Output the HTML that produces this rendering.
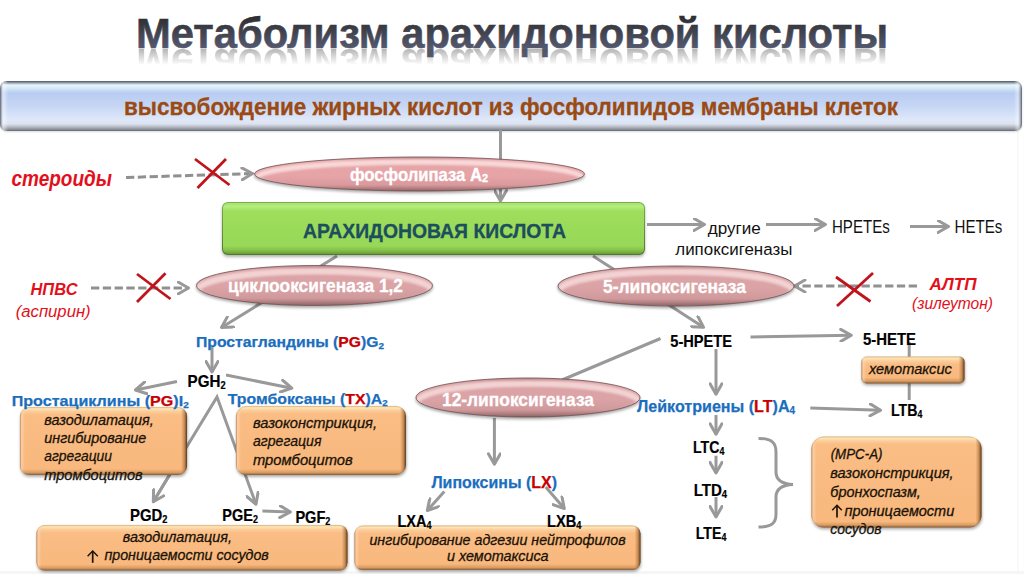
<!DOCTYPE html>
<html><head><meta charset="utf-8">
<style>
html,body{margin:0;padding:0;background:#fff;width:1024px;height:574px;overflow:hidden}
svg{display:block}
text{font-family:"Liberation Sans",sans-serif}
</style></head>
<body>
<svg width="1024" height="574" viewBox="0 0 1024 574">
<defs>
  <linearGradient id="gTitle" x1="0" y1="17" x2="0" y2="49" gradientUnits="userSpaceOnUse">
    <stop offset="0" stop-color="#2e2e30"/>
    <stop offset="1" stop-color="#555a70"/>
  </linearGradient>
  <linearGradient id="gRefl" x1="0" y1="49" x2="0" y2="65" gradientUnits="userSpaceOnUse">
    <stop offset="0" stop-color="#fff" stop-opacity="0.42"/>
    <stop offset="1" stop-color="#fff" stop-opacity="0"/>
  </linearGradient>
  <mask id="mRefl" maskUnits="userSpaceOnUse" x="0" y="40" width="1024" height="40">
    <rect x="0" y="49" width="1024" height="20" fill="url(#gRefl)"/>
  </mask>
  <linearGradient id="gBar" x1="0" y1="81" x2="0" y2="131" gradientUnits="userSpaceOnUse">
    <stop offset="0" stop-color="#4e545e"/>
    <stop offset="0.04" stop-color="#9aa4b0"/>
    <stop offset="0.08" stop-color="#e6f6fc"/>
    <stop offset="0.16" stop-color="#d0e4f6"/>
    <stop offset="0.24" stop-color="#b8ccf2"/>
    <stop offset="0.5" stop-color="#c6d6f4"/>
    <stop offset="0.78" stop-color="#dfe8fa"/>
    <stop offset="0.86" stop-color="#dce2ee"/>
    <stop offset="0.92" stop-color="#b4b8c2"/>
    <stop offset="0.97" stop-color="#8a8e98"/>
    <stop offset="1" stop-color="#60646c"/>
  </linearGradient>
  <linearGradient id="gBarSide" x1="0" y1="0" x2="1022" y2="0" gradientUnits="userSpaceOnUse">
    <stop offset="0" stop-color="#3a4050" stop-opacity="0.8"/>
    <stop offset="0.003" stop-color="#fff" stop-opacity="0.5"/>
    <stop offset="0.008" stop-color="#fff" stop-opacity="0"/>
    <stop offset="0.992" stop-color="#fff" stop-opacity="0"/>
    <stop offset="0.996" stop-color="#fff" stop-opacity="0.4"/>
    <stop offset="1" stop-color="#3a4050" stop-opacity="0.8"/>
  </linearGradient>
  <linearGradient id="gGreen" x1="0" y1="0" x2="0" y2="1">
    <stop offset="0" stop-color="#a8e070"/>
    <stop offset="0.07" stop-color="#b4ee7c"/>
    <stop offset="0.16" stop-color="#9ede5c"/>
    <stop offset="0.84" stop-color="#98d858"/>
    <stop offset="0.93" stop-color="#84c048"/>
    <stop offset="1" stop-color="#6a9c3a"/>
  </linearGradient>
  <linearGradient id="gGreenEdge" x1="0" y1="0" x2="0" y2="1">
    <stop offset="0" stop-color="#7cae4c"/>
    <stop offset="1" stop-color="#4e7a2a"/>
  </linearGradient>
  <linearGradient id="gOr" x1="0" y1="0" x2="0" y2="1">
    <stop offset="0" stop-color="#f4c898"/>
    <stop offset="0.05" stop-color="#fde2bc"/>
    <stop offset="0.14" stop-color="#f9c590"/>
    <stop offset="0.84" stop-color="#f7bd86"/>
    <stop offset="0.93" stop-color="#e4a66c"/>
    <stop offset="1" stop-color="#b07a46"/>
  </linearGradient>
  <linearGradient id="gOrSide" x1="0" y1="0" x2="1" y2="0">
    <stop offset="0" stop-color="#fff" stop-opacity="0.15"/>
    <stop offset="0.03" stop-color="#fff" stop-opacity="0"/>
    <stop offset="0.95" stop-color="#8a5a2a" stop-opacity="0"/>
    <stop offset="1" stop-color="#8a5a2a" stop-opacity="0.35"/>
  </linearGradient>
  <linearGradient id="gOrEdge" x1="0" y1="0" x2="0" y2="1">
    <stop offset="0" stop-color="#d0a070"/>
    <stop offset="1" stop-color="#7a5030"/>
  </linearGradient>
  <radialGradient id="gPinkR1" cx="0.5" cy="0.5" r="0.5">
    <stop offset="0" stop-color="#e6a2a6"/>
    <stop offset="0.72" stop-color="#e8a8aa"/>
    <stop offset="0.86" stop-color="#f4cccc"/>
    <stop offset="0.95" stop-color="#d49a9c"/>
    <stop offset="1" stop-color="#8a5e60"/>
  </radialGradient>
  <radialGradient id="gPinkR2" cx="0.5" cy="0.5" r="0.5">
    <stop offset="0" stop-color="#d49a9e"/>
    <stop offset="0.72" stop-color="#d8a0a2"/>
    <stop offset="0.86" stop-color="#ecc6c6"/>
    <stop offset="0.95" stop-color="#c89094"/>
    <stop offset="1" stop-color="#7a5658"/>
  </radialGradient>
  <linearGradient id="gPinkShade" x1="0" y1="0" x2="0" y2="1">
    <stop offset="0" stop-color="#5a3a3a" stop-opacity="0.25"/>
    <stop offset="0.1" stop-color="#5a3a3a" stop-opacity="0"/>
    <stop offset="0.55" stop-color="#6a4040" stop-opacity="0"/>
    <stop offset="0.82" stop-color="#6a4040" stop-opacity="0.1"/>
    <stop offset="1" stop-color="#4a3030" stop-opacity="0.55"/>
  </linearGradient>
  <linearGradient id="gTopM" x1="0" y1="0" x2="0" y2="1">
    <stop offset="0" stop-color="#fff" stop-opacity="1"/>
    <stop offset="0.45" stop-color="#fff" stop-opacity="1"/>
    <stop offset="0.7" stop-color="#fff" stop-opacity="0"/>
  </linearGradient>
  <mask id="mTop" maskContentUnits="objectBoundingBox" x="-0.1" y="-0.2" width="1.2" height="1.4"><rect x="-0.1" y="-0.2" width="1.2" height="1.4" fill="url(#gTopM)"/></mask>
  <filter id="blur15" x="-20%" y="-50%" width="140%" height="200%"><feGaussianBlur stdDeviation="1.5"/></filter>
  <filter id="blur1" x="-20%" y="-50%" width="140%" height="200%"><feGaussianBlur stdDeviation="1"/></filter>
  <marker id="ah" viewBox="0 0 14 14" refX="12" refY="7" markerWidth="14" markerHeight="14" markerUnits="userSpaceOnUse" orient="auto">
    <path d="M1.5 1 L12 7 L1.5 13" fill="none" stroke="#999" stroke-width="3" stroke-linecap="round" stroke-linejoin="round"/>
  </marker>
</defs>

<rect x="0" y="571" width="1024" height="3" fill="#f6f6f6"/><rect x="1017" y="131" width="1.5" height="440" fill="#f8f8f8"/>
<text x="136" y="48.3" font-size="42.5" font-weight="bold" textLength="752" lengthAdjust="spacingAndGlyphs" fill="url(#gTitle)" stroke="url(#gTitle)" stroke-width="0.6">Метаболизм арахидоновой кислоты</text>
<g mask="url(#mRefl)"><text x="136" y="48.3" transform="translate(0,97.4) scale(1,-1)" font-size="42.5" font-weight="bold" textLength="752" lengthAdjust="spacingAndGlyphs" fill="#505050">Метаболизм арахидоновой кислоты</text></g>
<rect x="0" y="82" width="1022" height="50" rx="7" fill="#000" opacity="0.15" filter="url(#blur1)"/>
<rect x="0" y="81" width="1022" height="50" rx="7" fill="url(#gBar)"/>
<rect x="0" y="81" width="1022" height="50" rx="7" fill="url(#gBarSide)"/>
<text x="124" y="114.5" font-size="23.5" fill="#9a4a12" font-weight="bold" textLength="774" lengthAdjust="spacingAndGlyphs" stroke="#9a4a12" stroke-width="0.3">высвобождение жирных кислот из фосфолипидов мембраны клеток</text>
<g stroke="#999" stroke-width="3" fill="none">
<line x1="500.5" y1="130" x2="500.5" y2="201" marker-end="url(#ah)"/>
<line x1="126" y1="177.5" x2="252.5" y2="173.5" marker-end="url(#ah)" stroke-dasharray="8.3 3.5" stroke="#909090"/>
<line x1="91" y1="288" x2="188.5" y2="288" marker-end="url(#ah)" stroke-dasharray="8.3 3.5" stroke="#909090"/>
<line x1="917" y1="286" x2="794.5" y2="286" marker-end="url(#ah)" stroke-dasharray="8.3 3.5" stroke="#909090"/>
<line x1="647" y1="224.5" x2="704.5" y2="224.5" marker-end="url(#ah)"/>
<line x1="766" y1="224.5" x2="825.5" y2="224.5" marker-end="url(#ah)"/>
<line x1="910" y1="226.5" x2="948.5" y2="226.5" marker-end="url(#ah)"/>
<line x1="337" y1="256" x2="221.5" y2="327.5" marker-end="url(#ah)"/>
<line x1="593" y1="256" x2="703.5" y2="327.3" marker-end="url(#ah)"/>
<line x1="212" y1="346" x2="212" y2="372" marker-end="url(#ah)"/>
<line x1="177" y1="381.5" x2="135.5" y2="390" marker-end="url(#ah)"/>
<line x1="226" y1="375" x2="291.8" y2="388.2" marker-end="url(#ah)"/>
<line x1="262.4" y1="511" x2="290.4" y2="512" marker-end="url(#ah)"/>
<line x1="660.5" y1="338.5" x2="562" y2="380"/>
<line x1="716" y1="349" x2="716" y2="394.3" marker-end="url(#ah)"/>
<line x1="750.5" y1="336.9" x2="851.3" y2="335.2" marker-end="url(#ah)"/>
<line x1="909.2" y1="342" x2="909.2" y2="400"/>
<line x1="810.3" y1="407.9" x2="880.6" y2="410.2" marker-end="url(#ah)"/>
<line x1="716" y1="415" x2="716" y2="434.3" marker-end="url(#ah)"/>
<line x1="716" y1="455.7" x2="716" y2="472.9" marker-end="url(#ah)"/>
<line x1="716" y1="497" x2="716" y2="517" marker-end="url(#ah)"/>
<line x1="494.4" y1="418" x2="494.4" y2="464.3" marker-end="url(#ah)"/>
<line x1="444.3" y1="491.4" x2="427.3" y2="510.5" marker-end="url(#ah)"/>
<line x1="545.7" y1="487" x2="564.3" y2="508.6" marker-end="url(#ah)"/>
<polyline points="153.3,501.7 217,397 256,504.3" marker-end="url(#ah)"/>
<path d="M758.5 438.5 C772 438.5 776 443 776 452 L776 472 C776 480 782 484 793 484.5 C782 485 776 489 776 497 L776 514 C776 523 772 527 758.5 527"/>
</g>
<line x1="170" y1="474" x2="153.3" y2="501.7" stroke="#999" stroke-width="3" marker-end="url(#ah)"/>
<g stroke="#c0141c" stroke-width="2.8">
<line x1="195" y1="159" x2="229.5" y2="185"/>
<line x1="226" y1="159" x2="197.5" y2="188"/>
<line x1="137" y1="274" x2="170.5" y2="299"/>
<line x1="165.5" y1="273.3" x2="137" y2="302"/>
<line x1="836" y1="277" x2="870.5" y2="301.5"/>
<line x1="873" y1="273" x2="837" y2="306"/>
</g>
<clipPath id="cel419_5_174"><ellipse cx="419.5" cy="174" rx="165" ry="17"/></clipPath>
<ellipse cx="419.5" cy="175.8" rx="165.5" ry="17.5" fill="#000" opacity="0.35" filter="url(#blur15)"/>
<ellipse cx="419.5" cy="174" rx="165" ry="17" fill="#e6a4a7"/>
<g clip-path="url(#cel419_5_174)">
<ellipse cx="419.5" cy="177.74" rx="162.525" ry="15.81" fill="none" stroke="#f8d8d8" stroke-width="5.44" filter="url(#blur1)" mask="url(#mTop)"/>
<ellipse cx="419.5" cy="174" rx="165" ry="17" fill="url(#gPinkShade)"/>
</g>
<ellipse cx="419.5" cy="174" rx="165" ry="17" fill="none" stroke="#6a4a4c" stroke-width="1" opacity="0.75"/>
<clipPath id="cel314_5_285_5"><ellipse cx="314.5" cy="285.5" rx="118" ry="20"/></clipPath>
<ellipse cx="314.5" cy="287.3" rx="118.5" ry="20.5" fill="#000" opacity="0.35" filter="url(#blur15)"/>
<ellipse cx="314.5" cy="285.5" rx="118" ry="20" fill="#dba3a6"/>
<g clip-path="url(#cel314_5_285_5)">
<ellipse cx="314.5" cy="289.9" rx="116.23" ry="18.6" fill="none" stroke="#f2d2d2" stroke-width="6.4" filter="url(#blur1)" mask="url(#mTop)"/>
<ellipse cx="314.5" cy="285.5" rx="118" ry="20" fill="url(#gPinkShade)"/>
</g>
<ellipse cx="314.5" cy="285.5" rx="118" ry="20" fill="none" stroke="#6a4a4c" stroke-width="1" opacity="0.75"/>
<clipPath id="cel676_286"><ellipse cx="676" cy="286" rx="118" ry="20"/></clipPath>
<ellipse cx="676" cy="287.8" rx="118.5" ry="20.5" fill="#000" opacity="0.35" filter="url(#blur15)"/>
<ellipse cx="676" cy="286" rx="118" ry="20" fill="#dba3a6"/>
<g clip-path="url(#cel676_286)">
<ellipse cx="676" cy="290.4" rx="116.23" ry="18.6" fill="none" stroke="#f2d2d2" stroke-width="6.4" filter="url(#blur1)" mask="url(#mTop)"/>
<ellipse cx="676" cy="286" rx="118" ry="20" fill="url(#gPinkShade)"/>
</g>
<ellipse cx="676" cy="286" rx="118" ry="20" fill="none" stroke="#6a4a4c" stroke-width="1" opacity="0.75"/>
<clipPath id="cel528_397_5"><ellipse cx="528" cy="397.5" rx="112" ry="19.5"/></clipPath>
<ellipse cx="528" cy="399.3" rx="112.5" ry="20.0" fill="#000" opacity="0.35" filter="url(#blur15)"/>
<ellipse cx="528" cy="397.5" rx="112" ry="19.5" fill="#dba3a6"/>
<g clip-path="url(#cel528_397_5)">
<ellipse cx="528" cy="401.79" rx="110.32" ry="18.135" fill="none" stroke="#f2d2d2" stroke-width="6.24" filter="url(#blur1)" mask="url(#mTop)"/>
<ellipse cx="528" cy="397.5" rx="112" ry="19.5" fill="url(#gPinkShade)"/>
</g>
<ellipse cx="528" cy="397.5" rx="112" ry="19.5" fill="none" stroke="#6a4a4c" stroke-width="1" opacity="0.75"/>
<rect x="222" y="204" width="423" height="53" rx="6" fill="#000" opacity="0.3" filter="url(#blur15)"/>
<rect x="222" y="202" width="423" height="53" rx="6" fill="url(#gGreenEdge)"/>
<rect x="223" y="203" width="421" height="51" rx="5" fill="url(#gGreen)"/>
<text x="303" y="237.5" font-size="19.6" fill="#1c4e5e" font-weight="bold" textLength="263" lengthAdjust="spacingAndGlyphs" stroke="#1c4e5e" stroke-width="0.3">АРАХИДОНОВАЯ КИСЛОТА</text>
<linearGradient id="ov1" x1="0" y1="407" x2="0" y2="475" gradientUnits="userSpaceOnUse"><stop offset="0" stop-color="#f4d0a0"/><stop offset="0.0294" stop-color="#fde4b0"/><stop offset="0.0662" stop-color="#fccc9c"/><stop offset="0.1176" stop-color="#fabd84"/><stop offset="0.9118" stop-color="#f8b87e"/><stop offset="0.9632" stop-color="#d99c62"/><stop offset="1" stop-color="#8a6038"/></linearGradient>
<linearGradient id="oh1" x1="20" y1="0" x2="187" y2="0" gradientUnits="userSpaceOnUse"><stop offset="0" stop-color="#a07048" stop-opacity="0.5"/><stop offset="0.009" stop-color="#fff0dc" stop-opacity="0.35"/><stop offset="0.0299" stop-color="#fff0dc" stop-opacity="0"/><stop offset="0.9641" stop-color="#b07840" stop-opacity="0"/><stop offset="0.985" stop-color="#a06830" stop-opacity="0.6"/><stop offset="1" stop-color="#4a3018" stop-opacity="1"/></linearGradient>
<rect x="20.5" y="408.8" width="167" height="68" rx="9" fill="#000" opacity="0.35" filter="url(#blur15)"/>
<rect x="20" y="407" width="167" height="68" rx="9" fill="url(#ov1)"/>
<rect x="20" y="407" width="167" height="68" rx="9" fill="url(#oh1)"/>
<rect x="20.4" y="407.4" width="166.2" height="67.2" rx="9" fill="none" stroke="#8a6040" stroke-width="0.8" opacity="0.25"/>
<linearGradient id="ov2" x1="0" y1="406" x2="0" y2="475" gradientUnits="userSpaceOnUse"><stop offset="0" stop-color="#f4d0a0"/><stop offset="0.029" stop-color="#fde4b0"/><stop offset="0.0652" stop-color="#fccc9c"/><stop offset="0.1159" stop-color="#fabd84"/><stop offset="0.913" stop-color="#f8b87e"/><stop offset="0.9638" stop-color="#d99c62"/><stop offset="1" stop-color="#8a6038"/></linearGradient>
<linearGradient id="oh2" x1="236" y1="0" x2="406" y2="0" gradientUnits="userSpaceOnUse"><stop offset="0" stop-color="#a07048" stop-opacity="0.5"/><stop offset="0.0088" stop-color="#fff0dc" stop-opacity="0.35"/><stop offset="0.0294" stop-color="#fff0dc" stop-opacity="0"/><stop offset="0.9647" stop-color="#b07840" stop-opacity="0"/><stop offset="0.9853" stop-color="#a06830" stop-opacity="0.6"/><stop offset="1" stop-color="#4a3018" stop-opacity="1"/></linearGradient>
<rect x="236.5" y="407.8" width="170" height="69" rx="10" fill="#000" opacity="0.35" filter="url(#blur15)"/>
<rect x="236" y="406" width="170" height="69" rx="10" fill="url(#ov2)"/>
<rect x="236" y="406" width="170" height="69" rx="10" fill="url(#oh2)"/>
<rect x="236.4" y="406.4" width="169.2" height="68.2" rx="10" fill="none" stroke="#8a6040" stroke-width="0.8" opacity="0.25"/>
<linearGradient id="ov3" x1="0" y1="525" x2="0" y2="570.5" gradientUnits="userSpaceOnUse"><stop offset="0" stop-color="#f4d0a0"/><stop offset="0.044" stop-color="#fde4b0"/><stop offset="0.0989" stop-color="#fccc9c"/><stop offset="0.1758" stop-color="#fabd84"/><stop offset="0.8681" stop-color="#f8b87e"/><stop offset="0.9451" stop-color="#d99c62"/><stop offset="1" stop-color="#8a6038"/></linearGradient>
<linearGradient id="oh3" x1="36.5" y1="0" x2="347.5" y2="0" gradientUnits="userSpaceOnUse"><stop offset="0" stop-color="#a07048" stop-opacity="0.5"/><stop offset="0.0048" stop-color="#fff0dc" stop-opacity="0.35"/><stop offset="0.0161" stop-color="#fff0dc" stop-opacity="0"/><stop offset="0.9807" stop-color="#b07840" stop-opacity="0"/><stop offset="0.992" stop-color="#a06830" stop-opacity="0.6"/><stop offset="1" stop-color="#4a3018" stop-opacity="1"/></linearGradient>
<rect x="37.0" y="526.8" width="311" height="45.5" rx="8" fill="#000" opacity="0.35" filter="url(#blur15)"/>
<rect x="36.5" y="525" width="311" height="45.5" rx="8" fill="url(#ov3)"/>
<rect x="36.5" y="525" width="311" height="45.5" rx="8" fill="url(#oh3)"/>
<rect x="36.9" y="525.4" width="310.2" height="44.7" rx="8" fill="none" stroke="#8a6040" stroke-width="0.8" opacity="0.25"/>
<linearGradient id="ov4" x1="0" y1="525.5" x2="0" y2="570.0" gradientUnits="userSpaceOnUse"><stop offset="0" stop-color="#f4d0a0"/><stop offset="0.0449" stop-color="#fde4b0"/><stop offset="0.1011" stop-color="#fccc9c"/><stop offset="0.1798" stop-color="#fabd84"/><stop offset="0.8652" stop-color="#f8b87e"/><stop offset="0.9438" stop-color="#d99c62"/><stop offset="1" stop-color="#8a6038"/></linearGradient>
<linearGradient id="oh4" x1="354.5" y1="0" x2="640.5" y2="0" gradientUnits="userSpaceOnUse"><stop offset="0" stop-color="#a07048" stop-opacity="0.5"/><stop offset="0.0052" stop-color="#fff0dc" stop-opacity="0.35"/><stop offset="0.0175" stop-color="#fff0dc" stop-opacity="0"/><stop offset="0.979" stop-color="#b07840" stop-opacity="0"/><stop offset="0.9913" stop-color="#a06830" stop-opacity="0.6"/><stop offset="1" stop-color="#4a3018" stop-opacity="1"/></linearGradient>
<rect x="355.0" y="527.3" width="286" height="44.5" rx="8" fill="#000" opacity="0.35" filter="url(#blur15)"/>
<rect x="354.5" y="525.5" width="286" height="44.5" rx="8" fill="url(#ov4)"/>
<rect x="354.5" y="525.5" width="286" height="44.5" rx="8" fill="url(#oh4)"/>
<rect x="354.9" y="525.9" width="285.2" height="43.7" rx="8" fill="none" stroke="#8a6040" stroke-width="0.8" opacity="0.25"/>
<linearGradient id="ov5" x1="0" y1="356.5" x2="0" y2="383.5" gradientUnits="userSpaceOnUse"><stop offset="0" stop-color="#f4d0a0"/><stop offset="0.0741" stop-color="#fde4b0"/><stop offset="0.1667" stop-color="#fccc9c"/><stop offset="0.2963" stop-color="#fabd84"/><stop offset="0.7778" stop-color="#f8b87e"/><stop offset="0.9074" stop-color="#d99c62"/><stop offset="1" stop-color="#8a6038"/></linearGradient>
<linearGradient id="oh5" x1="861.5" y1="0" x2="964.5" y2="0" gradientUnits="userSpaceOnUse"><stop offset="0" stop-color="#a07048" stop-opacity="0.5"/><stop offset="0.0146" stop-color="#fff0dc" stop-opacity="0.35"/><stop offset="0.0485" stop-color="#fff0dc" stop-opacity="0"/><stop offset="0.9417" stop-color="#b07840" stop-opacity="0"/><stop offset="0.9757" stop-color="#a06830" stop-opacity="0.6"/><stop offset="1" stop-color="#4a3018" stop-opacity="1"/></linearGradient>
<rect x="862.0" y="358.3" width="103" height="27" rx="5" fill="#000" opacity="0.35" filter="url(#blur15)"/>
<rect x="861.5" y="356.5" width="103" height="27" rx="5" fill="url(#ov5)"/>
<rect x="861.5" y="356.5" width="103" height="27" rx="5" fill="url(#oh5)"/>
<rect x="861.9" y="356.9" width="102.2" height="26.2" rx="5" fill="none" stroke="#8a6040" stroke-width="0.8" opacity="0.25"/>
<linearGradient id="ov6" x1="0" y1="436.5" x2="0" y2="527.5" gradientUnits="userSpaceOnUse"><stop offset="0" stop-color="#f4d0a0"/><stop offset="0.022" stop-color="#fde4b0"/><stop offset="0.0495" stop-color="#fccc9c"/><stop offset="0.0879" stop-color="#fabd84"/><stop offset="0.9341" stop-color="#f8b87e"/><stop offset="0.9725" stop-color="#d99c62"/><stop offset="1" stop-color="#8a6038"/></linearGradient>
<linearGradient id="oh6" x1="811.5" y1="0" x2="981.5" y2="0" gradientUnits="userSpaceOnUse"><stop offset="0" stop-color="#a07048" stop-opacity="0.5"/><stop offset="0.0088" stop-color="#fff0dc" stop-opacity="0.35"/><stop offset="0.0294" stop-color="#fff0dc" stop-opacity="0"/><stop offset="0.9647" stop-color="#b07840" stop-opacity="0"/><stop offset="0.9853" stop-color="#a06830" stop-opacity="0.6"/><stop offset="1" stop-color="#4a3018" stop-opacity="1"/></linearGradient>
<rect x="812.0" y="438.3" width="170" height="91" rx="12" fill="#000" opacity="0.35" filter="url(#blur15)"/>
<rect x="811.5" y="436.5" width="170" height="91" rx="12" fill="url(#ov6)"/>
<rect x="811.5" y="436.5" width="170" height="91" rx="12" fill="url(#oh6)"/>
<rect x="811.9" y="436.9" width="169.2" height="90.2" rx="12" fill="none" stroke="#8a6040" stroke-width="0.8" opacity="0.25"/>
<text x="350" y="180.8" font-size="17.5" fill="#fff" font-weight="bold" textLength="138" lengthAdjust="spacingAndGlyphs" stroke="#fff" stroke-width="0.3">фосфолипаза A<tspan font-size="11.5" dy="1.5">2</tspan></text>
<text x="228" y="292" font-size="18" fill="#fff" font-weight="bold" textLength="175" lengthAdjust="spacingAndGlyphs" stroke="#fff" stroke-width="0.3">циклооксигеназа 1,2</text>
<text x="603" y="292.6" font-size="17.7" fill="#fff" font-weight="bold" textLength="143" lengthAdjust="spacingAndGlyphs" stroke="#fff" stroke-width="0.3">5-липоксигеназа</text>
<text x="442" y="405.7" font-size="18.5" fill="#fff" font-weight="bold" textLength="152" lengthAdjust="spacingAndGlyphs" stroke="#fff" stroke-width="0.3">12-липоксигеназа</text>
<text x="11.5" y="185.5" font-size="21.5" fill="#e3101b" font-weight="bold" font-style="italic" textLength="100.5" lengthAdjust="spacingAndGlyphs" >стероиды</text>
<text x="30.5" y="295" font-size="17.4" fill="#e3101b" font-weight="bold" font-style="italic" textLength="47" lengthAdjust="spacingAndGlyphs" >НПВС</text>
<text x="15.7" y="317" font-size="17.4" fill="#e3101b" font-style="italic" textLength="75" lengthAdjust="spacingAndGlyphs" >(аспирин)</text>
<text x="929.5" y="289.5" font-size="17.3" fill="#e3101b" font-weight="bold" font-style="italic" textLength="47" lengthAdjust="spacingAndGlyphs" >АЛТП</text>
<text x="912" y="309.3" font-size="17" fill="#e3101b" font-style="italic" textLength="81" lengthAdjust="spacingAndGlyphs" >(зилеутон)</text>
<text x="196" y="346.6" font-size="15" fill="#1a6ebd" font-weight="bold" textLength="188" lengthAdjust="spacingAndGlyphs" stroke="#1a6ebd" stroke-width="0.25">Простагландины (<tspan fill="#c80000" stroke="#c80000">PG</tspan>)G<tspan font-size="9.5" dy="2">2</tspan></text>
<text x="11.7" y="405.7" font-size="15.3" fill="#1a6ebd" font-weight="bold" textLength="177" lengthAdjust="spacingAndGlyphs" stroke="#1a6ebd" stroke-width="0.25">Простациклины (<tspan fill="#c80000" stroke="#c80000">PG</tspan>)I<tspan font-size="9.5" dy="2">2</tspan></text>
<text x="227.7" y="404.4" font-size="15.5" fill="#1a6ebd" font-weight="bold" textLength="160" lengthAdjust="spacingAndGlyphs" stroke="#1a6ebd" stroke-width="0.25">Тромбоксаны (<tspan fill="#c80000" stroke="#c80000">TX</tspan>)A<tspan font-size="9.5" dy="2">2</tspan></text>
<text x="431.4" y="487.7" font-size="16.5" fill="#1a6ebd" font-weight="bold" textLength="125.6" lengthAdjust="spacingAndGlyphs" stroke="#1a6ebd" stroke-width="0.25">Липоксины (<tspan fill="#c80000" stroke="#c80000">LX</tspan>)</text>
<text x="637" y="411.6" font-size="16.3" fill="#1a6ebd" font-weight="bold" textLength="158" lengthAdjust="spacingAndGlyphs" stroke="#1a6ebd" stroke-width="0.25">Лейкотриены (<tspan fill="#c80000" stroke="#c80000">LT</tspan>)A<tspan font-size="10" dy="2">4</tspan></text>
<text x="187.6" y="387.3" font-size="16.4" fill="#000" font-weight="bold" textLength="38" lengthAdjust="spacingAndGlyphs" stroke="#000" stroke-width="0.2">PGH<tspan font-size="10" dy="2">2</tspan></text>
<text x="130" y="520.8" font-size="16.1" fill="#000" font-weight="bold" textLength="37.5" lengthAdjust="spacingAndGlyphs" stroke="#000" stroke-width="0.2">PGD<tspan font-size="10" dy="2">2</tspan></text>
<text x="222.3" y="520.8" font-size="16.1" fill="#000" font-weight="bold" textLength="35.6" lengthAdjust="spacingAndGlyphs" stroke="#000" stroke-width="0.2">PGE<tspan font-size="10" dy="2">2</tspan></text>
<text x="295.4" y="523.3" font-size="16.1" fill="#000" font-weight="bold" textLength="35" lengthAdjust="spacingAndGlyphs" stroke="#000" stroke-width="0.2">PGF<tspan font-size="10" dy="2">2</tspan></text>
<text x="397.5" y="526.7" font-size="16" fill="#000" font-weight="bold" textLength="34" lengthAdjust="spacingAndGlyphs" stroke="#000" stroke-width="0.2">LXA<tspan font-size="10" dy="2">4</tspan></text>
<text x="547" y="526.6" font-size="16" fill="#000" font-weight="bold" textLength="34.4" lengthAdjust="spacingAndGlyphs" stroke="#000" stroke-width="0.2">LXB<tspan font-size="10" dy="2">4</tspan></text>
<text x="670.3" y="347" font-size="16.1" fill="#000" font-weight="bold" textLength="61.7" lengthAdjust="spacingAndGlyphs" stroke="#000" stroke-width="0.2">5-HPETE</text>
<text x="863" y="345.3" font-size="16.4" fill="#000" font-weight="bold" textLength="53" lengthAdjust="spacingAndGlyphs" stroke="#000" stroke-width="0.2">5-HETE</text>
<text x="891" y="416.1" font-size="17" fill="#000" font-weight="bold" textLength="31.3" lengthAdjust="spacingAndGlyphs" stroke="#000" stroke-width="0.2">LTB<tspan font-size="10.5" dy="2">4</tspan></text>
<text x="693" y="452.9" font-size="16" fill="#000" font-weight="bold" textLength="31.3" lengthAdjust="spacingAndGlyphs" stroke="#000" stroke-width="0.2">LTC<tspan font-size="10" dy="2">4</tspan></text>
<text x="693.7" y="495.7" font-size="16" fill="#000" font-weight="bold" textLength="33.4" lengthAdjust="spacingAndGlyphs" stroke="#000" stroke-width="0.2">LTD<tspan font-size="10" dy="2">4</tspan></text>
<text x="695.7" y="538.6" font-size="16" fill="#000" font-weight="bold" textLength="30.6" lengthAdjust="spacingAndGlyphs" stroke="#000" stroke-width="0.2">LTE<tspan font-size="10" dy="2">4</tspan></text>
<text x="707.7" y="233.8" font-size="16.7" fill="#111" textLength="53" lengthAdjust="spacingAndGlyphs" >другие</text>
<text x="675.3" y="254.7" font-size="16.7" fill="#111" textLength="117" lengthAdjust="spacingAndGlyphs" >липоксигеназы</text>
<text x="832" y="233.3" font-size="18" fill="#111" textLength="57.7" lengthAdjust="spacingAndGlyphs" >HPETEs</text>
<text x="954.5" y="233.3" font-size="18" fill="#111" textLength="47.8" lengthAdjust="spacingAndGlyphs" >HETEs</text>
<g font-size="15" font-style="italic" fill="#1a1206" stroke="#1a1206" stroke-width="0.3">
<text x="44.3" y="424.6" textLength="109.5" lengthAdjust="spacingAndGlyphs">вазодилатация,</text>
<text x="44.3" y="442.75" textLength="102" lengthAdjust="spacingAndGlyphs">ингибирование</text>
<text x="44.3" y="461.2" textLength="67.7" lengthAdjust="spacingAndGlyphs">агрегации</text>
<text x="44.3" y="479.8" textLength="98.4" lengthAdjust="spacingAndGlyphs">тромбоцитов</text>
<text x="253" y="427.9" textLength="124" lengthAdjust="spacingAndGlyphs">вазоконстрикция,</text>
<text x="253" y="446.4" textLength="68.4" lengthAdjust="spacingAndGlyphs">агрегация</text>
<text x="253" y="465" textLength="99.7" lengthAdjust="spacingAndGlyphs">тромбоцитов</text>
<text x="122.8" y="541.8" textLength="109.2" lengthAdjust="spacingAndGlyphs">вазодилатация,</text>
<text x="104.4" y="560.1" textLength="164.4" lengthAdjust="spacingAndGlyphs">проницаемости сосудов</text>
<text x="369.4" y="545.3" textLength="256.3" lengthAdjust="spacingAndGlyphs">ингибирование адгезии нейтрофилов</text>
<text x="447" y="561.4" textLength="101.6" lengthAdjust="spacingAndGlyphs">и хемотаксиса</text>
<text x="868.9" y="374.4" textLength="83" lengthAdjust="spacingAndGlyphs">хемотаксис</text>
<text x="830.7" y="458.6" textLength="51.8" lengthAdjust="spacingAndGlyphs" font-size="13.8">(МРС-А)</text>
<text x="830.3" y="477.75" textLength="123.3" lengthAdjust="spacingAndGlyphs" font-size="13.8">вазоконстрикция,</text>
<text x="830.3" y="497.1" textLength="90.5" lengthAdjust="spacingAndGlyphs" font-size="13.8">бронхоспазм,</text>
<text x="844.5" y="515.9" textLength="109.7" lengthAdjust="spacingAndGlyphs" font-size="13.8">проницаемости</text>
<text x="830.3" y="533.7" textLength="51.2" lengthAdjust="spacingAndGlyphs" font-size="13.8">сосудов</text>
</g>
<g fill="none" stroke="#1a1206" stroke-linecap="butt" stroke-linejoin="miter">
<path d="M92.7 551.5 V562.8" stroke-width="1.7"/><path d="M87.6 556.2 L92.7 551 L97.8 556.2" stroke-width="1.4"/>
<path d="M837 505.8 V517.4" stroke-width="1.7"/><path d="M832.2 510.2 L837 505.3 L841.8 510.2" stroke-width="1.4"/>
</g>
</svg>
</body></html>
